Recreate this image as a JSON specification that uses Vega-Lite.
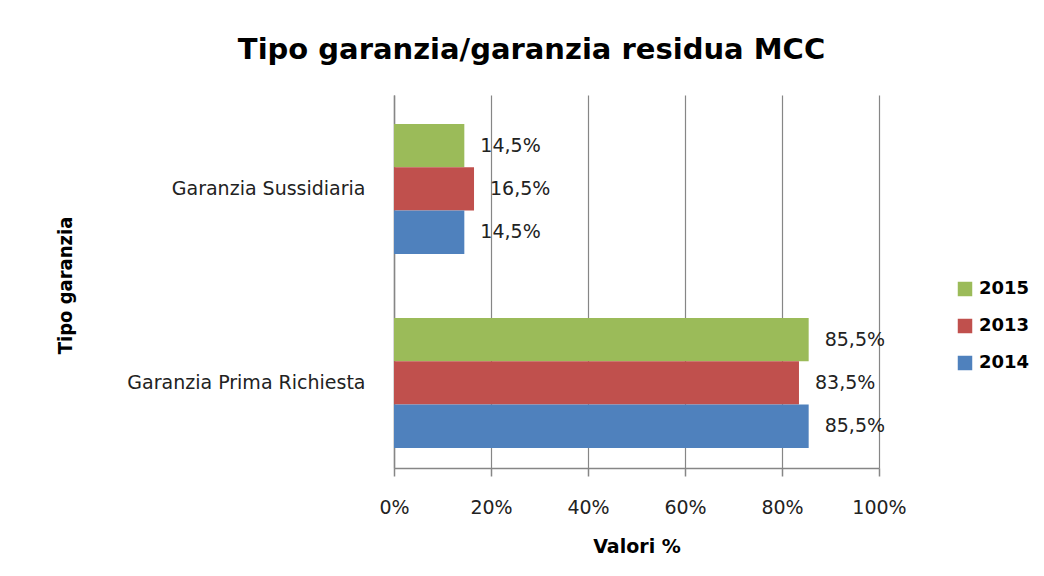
{
  "$schema": "https://vega.github.io/schema/vega-lite/v6.json",
  "autosize": "none",
  "width": 485,
  "height": 373,
  "padding": {"left": 394, "top": 95, "right": 165, "bottom": 108},
  "background": "white",
  "config": {
    "view": {"stroke": null},
    "locale": {"number": {"decimal": ",", "thousands": ".", "grouping": [3], "currency": ["", " €"]}},
    "font": "DejaVu Sans"
  },
  "title": {
    "text": "Tipo garanzia/garanzia residua MCC",
    "font": "DejaVu Sans",
    "fontSize": 29,
    "fontWeight": "bold",
    "color": "#000000",
    "anchor": "middle",
    "dx": -105,
    "offset": 30
  },
  "data": {
    "values": [
      {"tipo": "Garanzia Sussidiaria", "anno": "2015", "valore": 0.145},
      {"tipo": "Garanzia Sussidiaria", "anno": "2013", "valore": 0.165},
      {"tipo": "Garanzia Sussidiaria", "anno": "2014", "valore": 0.145},
      {"tipo": "Garanzia Prima Richiesta", "anno": "2015", "valore": 0.855},
      {"tipo": "Garanzia Prima Richiesta", "anno": "2013", "valore": 0.835},
      {"tipo": "Garanzia Prima Richiesta", "anno": "2014", "valore": 0.855}
    ]
  },
  "encoding": {
    "y": {
      "field": "tipo",
      "type": "nominal",
      "sort": ["Garanzia Sussidiaria", "Garanzia Prima Richiesta"],
      "scale": {"paddingInner": 0.33, "paddingOuter": 0.1263, "align": 0.59},
      "axis": {
        "title": "Tipo garanzia",
        "titleFont": "DejaVu Sans Condensed",
        "titleFontSize": 20,
        "titleFontWeight": "bold",
        "titleColor": "#000000",
        "titleX": -329,
        "titleY": 190,
        "titleAngle": -90,
        "titleBaseline": "middle",
        "titleAlign": "center",
        "labelFont": "DejaVu Sans",
        "labelFontSize": 19,
        "labelColor": "#222222",
        "labelPadding": 29,
        "labelLimit": 0,
        "ticks": false,
        "domainColor": "#868686",
        "domainWidth": 1.5
      }
    },
    "yOffset": {"field": "anno", "type": "nominal", "sort": ["2015", "2013", "2014"]},
    "x": {
      "field": "valore",
      "type": "quantitative",
      "scale": {"domain": [0, 1]},
      "axis": {
        "title": "Valori %",
        "format": ".0%",
        "values": [0, 0.2, 0.4, 0.6, 0.8, 1],
        "grid": true,
        "gridColor": "#868686",
        "gridWidth": 1.2,
        "domainColor": "#868686",
        "domainWidth": 1.5,
        "tickColor": "#868686",
        "tickSize": 8,
        "tickWidth": 1.5,
        "labelFont": "DejaVu Sans",
        "labelFontSize": 19,
        "labelColor": "#222222",
        "labelPadding": 22,
        "labelFlush": false,
        "titleFont": "DejaVu Sans",
        "titleFontSize": 19,
        "titleFontWeight": "bold",
        "titleColor": "#000000",
        "titlePadding": 20
      }
    }
  },
  "layer": [
    {
      "mark": {"type": "bar"},
      "encoding": {
        "color": {
          "field": "anno",
          "type": "nominal",
          "sort": ["2015", "2013", "2014"],
          "scale": {"domain": ["2015", "2013", "2014"], "range": ["#9bbb59", "#c0504d", "#4f81bd"]},
          "legend": {
            "title": null,
            "orient": "none",
            "legendX": 562,
            "legendY": 185,
            "symbolType": "square",
            "symbolSize": 210,
            "symbolStrokeWidth": 0,
            "rowPadding": 19,
            "labelFont": "DejaVu Sans",
            "labelFontSize": 18,
            "labelFontWeight": "bold",
            "labelColor": "#000000",
            "labelOffset": 5
          }
        }
      }
    },
    {
      "mark": {"type": "text", "align": "left", "baseline": "middle", "dx": 16, "font": "DejaVu Sans", "fontSize": 19, "color": "#222222"},
      "encoding": {
        "text": {"field": "valore", "type": "quantitative", "format": ".1%"}
      }
    }
  ]
}
